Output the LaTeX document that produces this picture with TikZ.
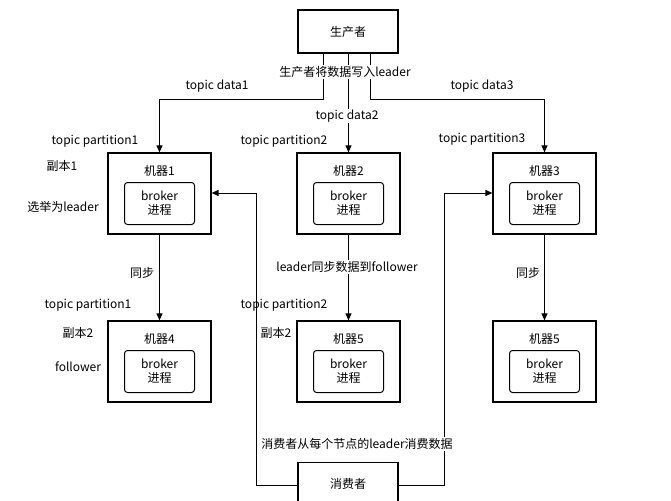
\documentclass[tikz,border=0pt]{standalone}
\usepackage{fontspec}
\setmainfont{Noto Sans CJK SC}
\usetikzlibrary{arrows.meta}
\begin{document}
\begin{tikzpicture}[x=1pt,y=-1pt,
  box/.style={draw,line width=1.2pt,fill=white,inner sep=0},
  inner/.style={draw,line width=1pt,rounded corners=3pt,minimum width=70pt,minimum height=42pt,align=center,font=\fontsize{12}{14}\selectfont,inner sep=0},
  lbl/.style={font=\fontsize{12}{14}\selectfont,fill=white,inner sep=1pt},
  txt/.style={font=\fontsize{12}{14}\selectfont,inner sep=1pt},
  arr/.style={line width=1pt,-{Triangle[length=7pt,width=6pt]}},
  ln/.style={line width=1pt}]
\useasboundingbox (0,0) rectangle (671,500);
\node[box,minimum width=100pt,minimum height=43pt,font=\fontsize{12}{14}\selectfont] (p) at (348,31.5) {生产者};
\node[box,minimum width=100pt,minimum height=43pt,font=\fontsize{12}{14}\selectfont,anchor=north] (c) at (348,462) {\raisebox{-8pt}{消费者}};
\foreach \n/\x/\y/\t in {m1/159.5/193.5/机器1,m2/348.5/193.5/机器2,m3/544.5/193.5/机器3,m4/159.5/361.5/机器4,m5/348.5/361.5/机器5,m6/544.5/361.5/机器5}{
  \node[box,minimum width=103pt,minimum height=81pt] (\n) at (\x,\y) {};
  \node[txt] (\n t) at (\x,\y-23) {\t};
  \node[inner] (\n b) at (\x,\y+10) {broker\\进程};
}
\coordinate (a1) at (323,100); \coordinate (a3) at (370,100);
\draw[ln] (p.south -| a1) -- (a1);
\draw[arr] (a1) -| (m1.north);
\draw[arr] (p.south -| m2.north) -- (m2.north);
\draw[ln] (p.south -| a3) -- (a3);
\draw[arr] (a3) -| (m3.north);
\node[lbl] (l0) at (345,72) {生产者将数据写入leader};
\node[txt] (l1) at (217,86) {topic data1};
\node[lbl] (l2) at (347,116) {topic data2};
\node[txt] (l3) at (482,86) {topic data3};
\node[txt] (tp1) at (95,141) {topic partition1};
\node[txt] (tp2) at (284,141) {topic partition2};
\node[txt] (tp3) at (482,139) {topic partition3};
\node[txt] (f1) at (62,166) {副本1};
\node[txt] (f2) at (63,207) {选举为leader};
\draw[arr] (m1.south) -- (m4.north);
\draw[arr] (m2.south) -- (m5.north);
\draw[arr] (m3.south) -- (m6.north);
\node[txt] (s1) at (142,273) {同步};
\node[lbl] (s2) at (347,267) {leader同步数据到follower};
\node[txt] (s3) at (528,273) {同步};
\node[txt] (tq1) at (88,305) {topic partition1};
\node[txt] (tq2) at (284,305) {topic partition2};
\node[txt] (r1) at (78,333) {副本2};
\node[txt] (r2) at (276,333) {副本2};
\node[txt] (fo) at (78,367) {follower};
\coordinate (cl) at (256,485); \coordinate (cr) at (444,485);
\draw[arr] (c.west |- cl) -- (cl) |- (m1.east |- 0,193);
\draw[arr] (c.east |- cr) -- (cr) |- (m3.west |- 0,193);
\node[lbl] (cc) at (357,444) {消费者从每个节点的leader消费数据};
\end{tikzpicture}
\end{document}
